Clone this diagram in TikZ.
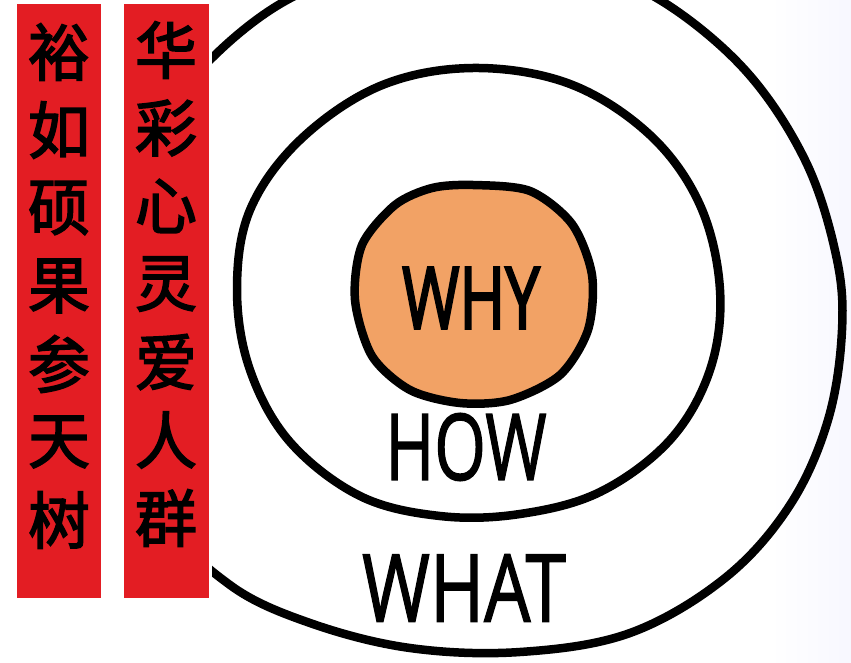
\documentclass[tikz,border=0pt]{standalone}
\usepackage{fontspec}
\setmainfont{Open Sans}
\newfontfamily\hand{Open Sans}[FakeBold=1.6]
\newfontfamily\handb{Open Sans}[FakeBold=3]
\newfontfamily\cjk{Noto Sans CJK SC}[FakeBold=2.5]
\definecolor{bannerred}{HTML}{E31D23}
\definecolor{whyfill}{HTML}{F2A265}
\begin{document}
\begin{tikzpicture}[x=1pt,y=-1pt,
  ring/.style={draw=black,line width=8.5pt,line join=round},
  hanzi/.style={font=\cjk\fontsize{62}{62}\selectfont,text=black,inner sep=0pt},
  word/.style={inner sep=0pt,text=black}]
\useasboundingbox (0,0) rectangle (851,663);
\fill[white] (0,0) rectangle (851,663);
\shade[left color=white,right color=blue!3] (770,0) rectangle (851,663);
% banners
\fill[bannerred] (17,4) rectangle (101,598);
\fill[bannerred] (124,4) rectangle (209,598);
\foreach \c [count=\i] in {裕,如,硕,果,参,天,树}
  \node[hanzi] (L\i) at (59,{52+78*(\i-1)}) {\c};
\foreach \c [count=\i] in {华,彩,心,灵,爱,人,群}
  \node[hanzi] (R\i) at (166,{50+78*(\i-1)}) {\c};
% outer ring
\begin{scope}
\clip (212,0) rectangle (851,663);
\draw[ring] plot[smooth cycle,tension=0.6] coordinates {
  (213,57) (287,0) (380,-35) (480,-45) (580,-30) (660,0) (745,70)
  (805,160) (836,255) (842,330) (828,420) (790,505) (725,578)
  (630,633) (520,652) (410,648) (310,623) (230,585) (170,520)
  (140,400) (140,250) (165,120)};
\end{scope}
% middle ring
\draw[ring] plot[smooth cycle,tension=0.6] coordinates {
  (473,68) (570,84) (650,135) (700,205) (720,290) (710,370) (670,440)
  (600,492) (520,514) (440,516) (360,496) (290,442) (250,370) (237,290)
  (250,210) (300,140) (380,86)};
% inner disc
\draw[ring,fill=whyfill] plot[smooth cycle,tension=0.5] coordinates {
  (473,185) (530,191) (572,224) (592,275) (588,330) (560,375) (510,400)
  (460,403) (410,390) (372,356) (355,300) (362,245) (395,205) (432,188)};
% words
\node[word] (why) at (471,298) {\scalebox{0.72}[1]{\handb\fontsize{86}{86}\selectfont WHY}};
\node[word] (how) at (466,447) {\scalebox{0.72}[1]{\hand\fontsize{92}{92}\selectfont HOW}};
\node[word] (what) at (464,588) {\scalebox{0.78}[1]{\hand\fontsize{94}{94}\selectfont WHAT}};
\end{tikzpicture}
\end{document}
